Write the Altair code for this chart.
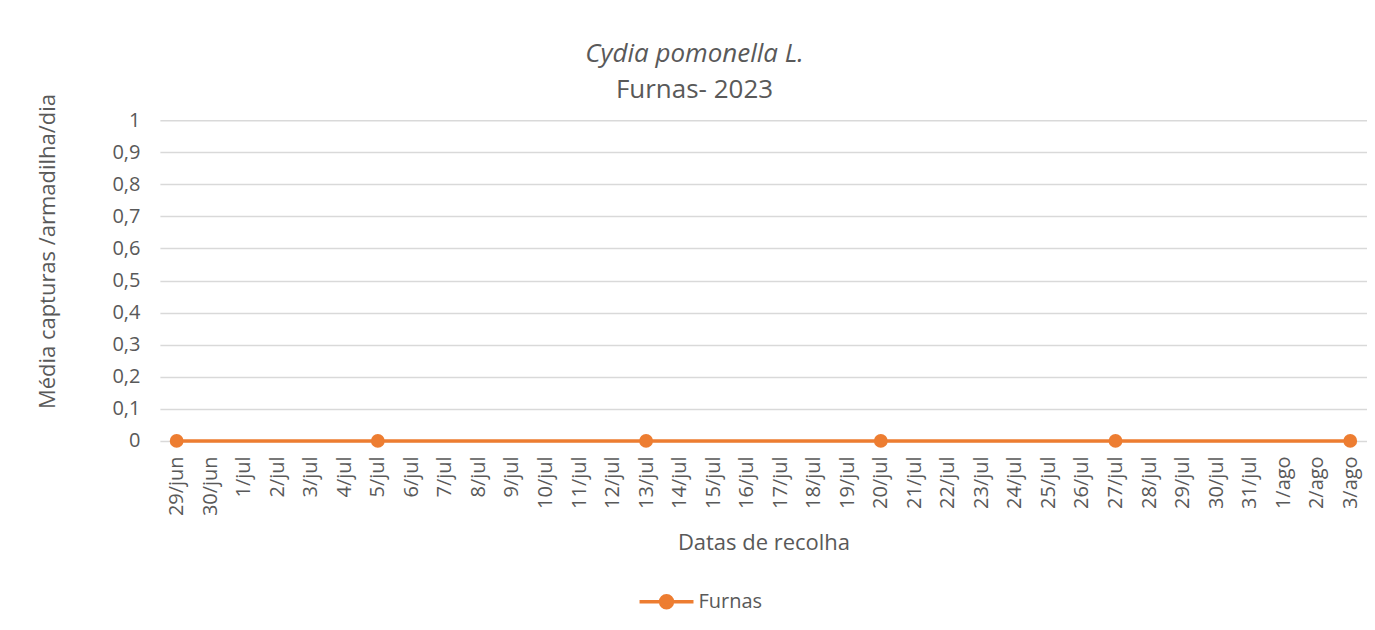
import altair as alt
import pandas as pd

categories = ["29/jun", "30/jun", "1/jul", "2/jul", "3/jul", "4/jul", "5/jul", "6/jul", "7/jul",
              "8/jul", "9/jul", "10/jul", "11/jul", "12/jul", "13/jul", "14/jul", "15/jul",
              "16/jul", "17/jul", "18/jul", "19/jul", "20/jul", "21/jul", "22/jul", "23/jul",
              "24/jul", "25/jul", "26/jul", "27/jul", "28/jul", "29/jul", "30/jul", "31/jul",
              "1/ago", "2/ago", "3/ago"]
sample_dates = ["29/jun", "5/jul", "13/jul", "20/jul", "27/jul", "3/ago"]
furnas_values = [0, 0, 0, 0, 0, 0]
series_name = "Furnas"

df = pd.DataFrame({"data": sample_dates, "valor": furnas_values, "serie": series_name})

FONT = "Open Sans"
GREY = "#595959"
ORANGE = "#ED7D31"

legend_path = ("M-1,0L1,0M-0.22,0A0.22,0.22,0,1,1,0.22,0A0.22,0.22,0,1,1,-0.22,0Z")

chart = alt.Chart(df).mark_line(
    strokeWidth=3.5,
    point=alt.OverlayMarkDef(filled=True, size=190, color=ORANGE, opacity=1),
).encode(
    x=alt.X("data:O", sort=categories, scale=alt.Scale(domain=categories, paddingInner=0, paddingOuter=0.5),
            axis=alt.Axis(title="Datas de recolha", labelAngle=-90, labelAlign="right",
                          labelBaseline="middle", labelPadding=15, ticks=False, domain=False,
                          labelFontSize=20, labelColor=GREY, labelFont=FONT,
                          titleFontSize=22, titleColor=GREY, titleFont=FONT, titleFontWeight="normal",
                          titleX=604, titleY=102, titleBaseline="middle", titleAlign="center")),
    y=alt.Y("valor:Q", scale=alt.Scale(domain=[0, 1]),
            axis=alt.Axis(title="Média capturas /armadilha/dia", values=[i / 10 for i in range(11)],
                          labelExpr="replace(format(datum.value, '.1~f'), '.', ',')",
                          ticks=False, domain=False, labelPadding=20,
                          labelFontSize=20, labelColor=GREY, labelFont=FONT,
                          gridColor="#d9d9d9", gridWidth=1.5,
                          titleFontSize=22, titleColor=GREY, titleFont=FONT, titleFontWeight="normal",
                          titleX=-112, titleY=131, titleAngle=-90, titleBaseline="middle",
                          titleAlign="center")),
    color=alt.Color("serie:N", scale=alt.Scale(range=[ORANGE]),
                    legend=alt.Legend(title=None, orient="none", legendX=478, legendY=453,
                                      symbolType=legend_path, symbolSize=2916,
                                      symbolStrokeWidth=3.5, symbolFillColor=ORANGE,
                                      symbolStrokeColor=ORANGE, padding=0,
                                      labelFontSize=20, labelColor=GREY, labelFont=FONT,
                                      labelOffset=3)),
).properties(
    width=1208,
    height=321,
    padding={"left": 152, "top": 112, "right": 0, "bottom": 175},
    autosize=alt.AutoSizeParams(type="none"),
    background="white",
    title=alt.TitleParams(
        text="Cydia pomonella L.",
        subtitle="Furnas- 2023",
        font=FONT, fontSize=26, fontStyle="italic", fontWeight="normal", color=GREY,
        subtitleFont=FONT, subtitleFontSize=26, subtitleFontStyle="normal", subtitleColor=GREY,
        subtitlePadding=10,
        anchor="middle", dx=-69, dy=19, offset=9,
    ),
).configure_view(stroke=None)

chart.save("out.html", embed_options={"renderer": "svg", "actions": False})
